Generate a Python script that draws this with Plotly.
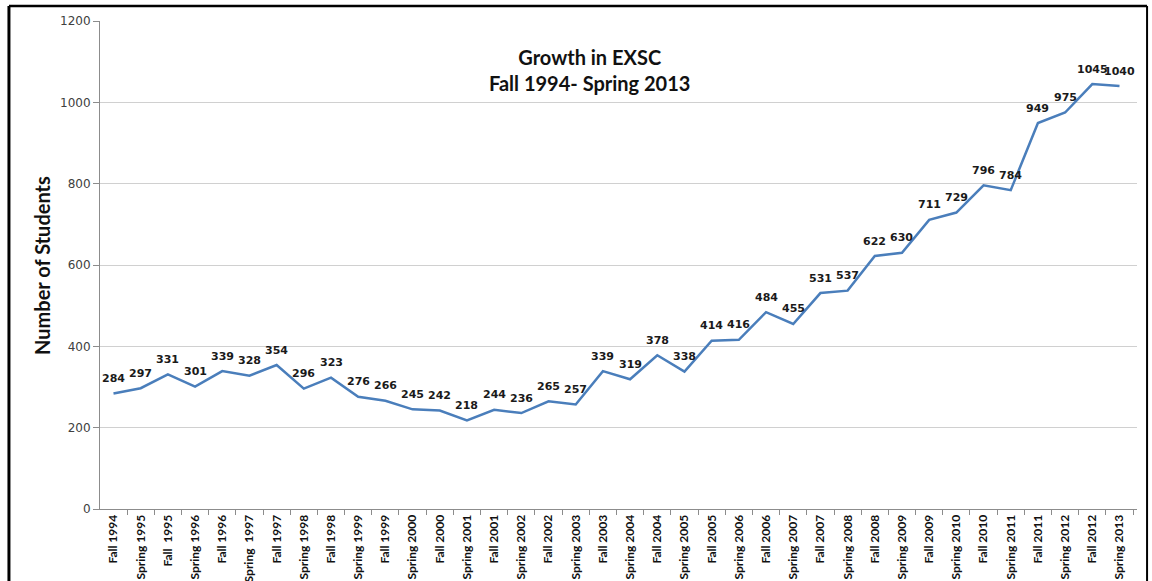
import plotly.graph_objects as go

categories = [
    "Fall 1994", "Spring 1995", "Fall\u00a0 1995", "Spring 1996", "Fall 1996", "Spring\u00a0 1997",
    "Fall 1997", "Spring 1998", "Fall 1998", "Spring 1999", "Fall 1999", "Spring 2000",
    "Fall 2000", "Spring 2001", "Fall 2001", "Spring 2002", "Fall 2002", "Spring 2003",
    "Fall 2003", "Spring 2004", "Fall 2004", "Spring 2005", "Fall 2005", "Spring 2006",
    "Fall 2006", "Spring 2007", "Fall 2007", "Spring 2008", "Fall 2008", "Spring 2009",
    "Fall 2009", "Spring 2010", "Fall 2010", "Spring 2011", "Fall 2011", "Spring 2012",
    "Fall 2012", "Spring 2013",
]
students = [
    284, 297, 331, 301, 339, 328, 354, 296, 323, 276, 266, 245, 242, 218, 244, 236,
    265, 257, 339, 319, 378, 338, 414, 416, 484, 455, 531, 537, 622, 630, 711, 729,
    796, 784, 949, 975, 1045, 1040,
]
y_ticks = [0, 200, 400, 600, 800, 1000, 1200]

LINE_COLOR = "#4A7EBB"

fig = go.Figure()
fig.add_trace(go.Scatter(
    x=categories, y=students, mode="lines",
    line=dict(color=LINE_COLOR, width=2.5),
    hoverinfo="x+y", showlegend=False,
))

annotations = []
for c, v in zip(categories, students):
    annotations.append(dict(
        x=c, y=v, xref="x", yref="y", text=str(v), showarrow=False,
        yshift=15, font=dict(family="DejaVu Sans", size=11, color="#1a1a1a", weight="bold"),
    ))

annotations.append(dict(
    x=0.4725, y=0.90, xref="paper", yref="paper",
    text="<b>Growth in EXSC<br>Fall 1994- Spring 2013</b>", showarrow=False,
    font=dict(family="Lato", size=20, color="#111111"), align="center",
    xanchor="center", yanchor="middle",
))
annotations.append(dict(
    x=-0.056, y=0.5, xref="paper", yref="paper",
    text="<b>Number of Students</b>", showarrow=False, textangle=-90,
    font=dict(family="Lato", size=20, color="#111111"),
    xanchor="center", yanchor="middle",
))

fig.update_layout(
    width=1152, height=581,
    margin=dict(l=100, r=15, t=21, b=72, autoexpand=False),
    paper_bgcolor="white", plot_bgcolor="white",
    annotations=annotations,
    shapes=[
        # outer chart frame (left, top, right edges; bottom lies below the visible area)
        dict(type="line", xref="paper", yref="paper", x0=-0.0878, x1=-0.0878, y0=-0.2, y1=1.0307,
             line=dict(color="black", width=3)),
        dict(type="line", xref="paper", yref="paper", x0=-0.0878, x1=1.0097, y0=1.0307, y1=1.0307,
             line=dict(color="black", width=2.5)),
        dict(type="line", xref="paper", yref="paper", x0=1.0097, x1=1.0097, y0=-0.2, y1=1.0307,
             line=dict(color="black", width=2)),
    ],
)

fig.update_xaxes(
    type="category", tickangle=-90, automargin=False,
    tickfont=dict(family="Lato", size=12, color="#111111", weight="bold"),
    showline=True, linecolor="#8c8c8c", linewidth=1,
    ticks="outside", ticklen=5, tickcolor="#8c8c8c", tickson="boundaries",
    showgrid=False, zeroline=False,
)
fig.update_yaxes(
    range=[0, 1200], tickvals=y_ticks, automargin=False,
    tickfont=dict(family="DejaVu Sans", size=12, color="#404040"),
    showline=True, linecolor="#8c8c8c", linewidth=1,
    ticks="outside", ticklen=6, tickcolor="#8c8c8c",
    showgrid=True, gridcolor="#d0d0d0", gridwidth=1, zeroline=False,
)

fig.write_html("out.html", config={"displayModeBar": False},
               post_script="document.body.style.margin='0';")
